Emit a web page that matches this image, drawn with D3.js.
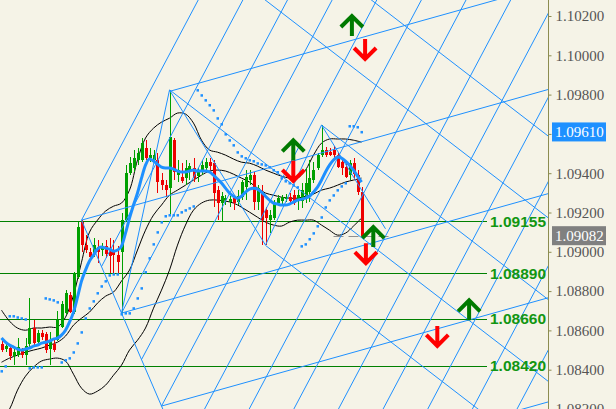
<!DOCTYPE html>
<html><head><meta charset="utf-8">
<script src="https://cdnjs.cloudflare.com/ajax/libs/d3/7.8.5/d3.min.js"></script>
<style>html,body{margin:0;padding:0;background:#F5F3E7;} svg{display:block}</style>
</head><body>
<svg id="chart" width="616" height="409"></svg>
<script>
// ---------- data ----------
const openP = [1.08530,1.08505,1.08510,1.08469,1.08474,1.08500,1.08474,1.08530,1.08612,1.08540,
1.08586,1.08581,1.08505,1.08530,1.08550,1.08617,1.08688,1.08779,1.08693,1.08871,
1.09151,1.09034,1.08998,1.08993,1.09024,1.09009,1.09029,1.08998,1.09009,1.08983,
1.08998,1.09161,1.09400,1.09426,1.09467,1.09467,1.09528,1.09477,1.09467,1.09467,
1.09365,1.09339,1.09324,1.09568,1.09390,1.09380,1.09375,1.09416,1.09426,1.09385,
1.09406,1.09426,1.09456,1.09451,1.09314,1.09248,1.09263,1.09253,1.09273,1.09253,
1.09278,1.09329,1.09365,1.09390,1.09253,1.09304,1.09212,1.09161,1.09171,1.09248,
1.09258,1.09268,1.09278,1.09288,1.09263,1.09258,1.09273,1.09304,1.09365,1.09426,
1.09492,1.09518,1.09507,1.09518,1.09492,1.09456,1.09431,1.09390,1.09451,1.09390,
1.09304];
const highP = [1.08545,1.08540,1.08525,1.08515,1.08561,1.08510,1.08561,1.08764,1.08652,1.08601,
1.08601,1.08591,1.08591,1.08550,1.08698,1.08749,1.08805,1.08795,1.08897,1.09151,
1.09161,1.09085,1.09019,1.09070,1.09059,1.09044,1.09059,1.09070,1.09059,1.09029,
1.09197,1.09441,1.09482,1.09518,1.09528,1.09579,1.09568,1.09528,1.09518,1.09502,
1.09400,1.09365,1.09823,1.09579,1.09467,1.09451,1.09467,1.09451,1.09477,1.09426,
1.09467,1.09477,1.09477,1.09467,1.09334,1.09304,1.09288,1.09283,1.09288,1.09314,
1.09365,1.09416,1.09416,1.09406,1.09339,1.09339,1.09227,1.09212,1.09263,1.09288,
1.09288,1.09294,1.09299,1.09314,1.09314,1.09350,1.09426,1.09467,1.09456,1.09502,
1.09645,1.09533,1.09528,1.09538,1.09502,1.09477,1.09451,1.09467,1.09477,1.09416,
1.09329];
const lowP = [1.08489,1.08489,1.08449,1.08423,1.08464,1.08459,1.08423,1.08515,1.08520,1.08535,
1.08550,1.08484,1.08423,1.08489,1.08545,1.08612,1.08678,1.08688,1.08683,1.08861,
1.08998,1.08993,1.08958,1.08973,1.08942,1.08978,1.08968,1.08891,1.08891,1.08891,
1.08688,1.09151,1.09390,1.09406,1.09441,1.09456,1.09467,1.09456,1.09451,1.09299,
1.09314,1.09278,1.09187,1.09365,1.09355,1.09350,1.09339,1.09365,1.09355,1.09355,
1.09390,1.09406,1.09416,1.09227,1.09161,1.09151,1.09238,1.09227,1.09212,1.09238,
1.09263,1.09263,1.09339,1.09212,1.09212,1.09034,1.09034,1.09095,1.09161,1.09238,
1.09243,1.09253,1.09243,1.09238,1.09212,1.09222,1.09248,1.09253,1.09350,1.09416,
1.09482,1.09482,1.09487,1.09477,1.09426,1.09390,1.09375,1.09365,1.09365,1.09288,
1.09075];
const closeP = [1.08500,1.08520,1.08469,1.08489,1.08515,1.08474,1.08520,1.08612,1.08535,1.08586,
1.08566,1.08500,1.08545,1.08500,1.08652,1.08734,1.08790,1.08693,1.08891,1.09126,
1.09034,1.09009,1.08973,1.09034,1.08998,1.09029,1.08988,1.08978,1.08983,1.08947,
1.09161,1.09400,1.09451,1.09477,1.09502,1.09553,1.09477,1.09492,1.09492,1.09355,
1.09339,1.09314,1.09584,1.09406,1.09416,1.09360,1.09426,1.09436,1.09375,1.09406,
1.09441,1.09456,1.09436,1.09299,1.09248,1.09283,1.09273,1.09268,1.09248,1.09283,
1.09355,1.09380,1.09390,1.09253,1.09324,1.09161,1.09171,1.09187,1.09248,1.09273,
1.09278,1.09278,1.09258,1.09248,1.09288,1.09314,1.09350,1.09375,1.09416,1.09492,
1.09518,1.09492,1.09492,1.09492,1.09431,1.09426,1.09380,1.09451,1.09395,1.09304,
1.09082];
const maLine = [1.08561,1.08540,1.08525,1.08515,1.08505,1.08500,1.08505,1.08510,1.08520,1.08525,
1.08535,1.08540,1.08545,1.08556,1.08561,1.08576,1.08601,1.08642,1.08693,1.08769,
1.08851,1.08907,1.08953,1.08983,1.09014,1.09024,1.09019,1.09014,1.09003,1.09009,
1.09029,1.09095,1.09171,1.09238,1.09299,1.09375,1.09441,1.09472,1.09462,1.09446,
1.09431,1.09426,1.09426,1.09421,1.09411,1.09406,1.09406,1.09411,1.09416,1.09411,
1.09411,1.09411,1.09406,1.09390,1.09370,1.09350,1.09324,1.09299,1.09283,1.09273,
1.09283,1.09304,1.09319,1.09324,1.09319,1.09304,1.09283,1.09263,1.09248,1.09243,
1.09238,1.09238,1.09243,1.09253,1.09263,1.09268,1.09273,1.09283,1.09304,1.09329,
1.09365,1.09406,1.09441,1.09467,1.09482,1.09477,1.09462,1.09441,1.09416,1.09385,
1.09355];
// Bollinger bands, read every second bar
const bandBars = d3.range(0, 91, 2);
const bandUpper = [1.08703,1.08647,1.08612,1.08601,1.08612,1.08612,1.08617,1.08617,1.08667,1.08779,
1.08947,1.09100,1.09161,1.09207,1.09232,1.09248,1.09314,1.09467,1.09579,1.09629,
1.09660,1.09680,1.09706,1.09701,1.09655,1.09568,1.09518,1.09507,1.09492,1.09472,
1.09456,1.09451,1.09436,1.09416,1.09400,1.09385,1.09375,1.09375,1.09416,1.09492,
1.09553,1.09574,1.09574,1.09574,1.09568,1.09558];
const bandMiddle = [1.08438,1.08459,1.08474,1.08489,1.08500,1.08510,1.08525,1.08540,1.08571,1.08627,
1.08662,1.08693,1.08739,1.08774,1.08795,1.08851,1.08907,1.09009,1.09110,1.09187,
1.09238,1.09288,1.09314,1.09339,1.09365,1.09390,1.09411,1.09416,1.09411,1.09395,
1.09375,1.09355,1.09324,1.09299,1.09288,1.09278,1.09273,1.09273,1.09283,1.09294,
1.09314,1.09324,1.09339,1.09355,1.09365,1.09375];
const bandLower = [1.08143,1.08199,1.08296,1.08367,1.08413,1.08444,1.08454,1.08459,1.08444,1.08377,
1.08306,1.08276,1.08291,1.08321,1.08372,1.08423,1.08500,1.08550,1.08612,1.08713,
1.08805,1.08907,1.09034,1.09136,1.09212,1.09248,1.09263,1.09263,1.09258,1.09248,
1.09227,1.09202,1.09176,1.09151,1.09136,1.09131,1.09151,1.09161,1.09161,1.09161,
1.09136,1.09110,1.09085,1.09095,1.09131,1.09171];
const sarDots = [1.08393,1.08418,1.08673,1.08673,1.08667,1.08662,1.08657,1.08408,1.08413,1.08413,
1.08413,1.08764,1.08759,1.08754,1.08744,1.08438,1.08449,1.08459,1.08489,1.08535,
1.08591,1.08662,1.08713,1.08749,1.08790,1.08825,1.08851,1.08881,1.08886,1.08886,
1.08683,1.08688,1.08688,1.08713,1.08764,1.08815,1.08897,1.08968,1.09039,1.09100,
1.09151,1.09182,1.09187,1.09187,1.09187,1.09202,1.09212,1.09222,1.09232,1.09823,
1.09797,1.09772,1.09747,1.09721,1.09680,1.09650,1.09599,1.09568,1.09543,1.09507,
1.09487,1.09477,1.09467,1.09462,1.09451,1.09446,1.09441,1.09431,1.09416,1.09406,
1.09375,1.09360,1.09350,1.09339,1.09329,1.09029,1.09039,1.09065,1.09095,1.09131,
1.09176,1.09227,1.09263,1.09288,1.09314,1.09334,1.09350,1.09640,1.09640,1.09635,
1.09610];
const tickPrices = [1.082,1.084,1.086,1.088,1.090,1.092,1.094,1.096,1.098,1.100,1.102];
const levelPrices = [1.09155, 1.08890, 1.08660, 1.08420];
const lastClose = 1.09082;
const lastSar = 1.09610;
const bidLineBars = [83, 97];   // short dashed bid marker near the last bar
// drawing-object anchors (bar index, price)
const anchorC = {bar: 20, price: 1.09161};
const anchorA = {bar: 30, price: 1.08688};
const anchorB = {bar: 42, price: 1.09823};
const anchorD = {bar: 80, price: 1.09645};
const anchorE = {bar: 66, price: 1.09034};
const steepSlope = 0.000384, shallowSlope = 0.0000570, fallSlope = -0.0001567; // price per bar
const steepStarts = [20,25,30,35,40,45,50,55,60,65,70,75,80];
const steepOffsets = [0,-1,-2,-3,-4,-5,-6,-7,-8,-9,-10,-11,-12];
const shallowStarts = [42,20,30,40,50];
const shallowOffsets = [1,0,-1,-2,-3];
const fallStarts = [40,40,80,42,66];
const fallOffsets = [2,1,0,-1,-2];
const extraSegments = [
  [30,1.08688,42,1.09823],
  [20,1.09161,41,1.08168],
  [42,1.09823,66,1.09034],
  [66,1.09034,80,1.09645],
  [80,1.09645,96,1.09117]
];
const upArrows = [{bar:87.6,price:1.10205},{bar:72.95,price:1.09572},{bar:92.95,price:1.09131},{bar:116.9,price:1.08758}];
const downArrows = [{bar:90.9,price:1.09976},{bar:72.95,price:1.09356},{bar:91.1,price:1.08937},{bar:108.95,price:1.08516}];

// ---------- scales ----------
const W = 616, H = 409, plotR = 548;
const x = d3.scaleLinear().domain([0, 136]).range([1.5, 545.5]);
const y = d3.scaleLinear().domain([1.082, 1.102]).range([409, 16]);
const svg = d3.select('#chart');
svg.append('rect').attr('width', W).attr('height', H).attr('fill', '#F5F3E7');
svg.append('defs').append('clipPath').attr('id', 'plot')
  .append('rect').attr('x', 0).attr('y', 0).attr('width', plotR).attr('height', H);
const g = svg.append('g').attr('clip-path', 'url(#plot)');

const BLUE = '#1E90FF';
g.selectAll('line.lvl').data(levelPrices).join('line')
  .attr('x1', 0).attr('x2', 487)
  .attr('y1', d => Math.round(y(d)) + 0.5).attr('y2', d => Math.round(y(d)) + 0.5)
  .attr('stroke', '#008000').attr('stroke-width', 1);

// dashed bid marker
g.append('line').attr('x1', x(bidLineBars[0])).attr('x2', x(bidLineBars[1]))
  .attr('y1', Math.round(y(lastClose)) + 0.5).attr('y2', Math.round(y(lastClose)) + 0.5)
  .attr('stroke', '#909090').attr('stroke-width', 1).attr('stroke-dasharray', '10,5');

const bandLine = arr => d3.line().x((d, i) => x(bandBars[i])).y(d => y(d)).curve(d3.curveCatmullRom)(arr);
[bandUpper, bandMiddle, bandLower].forEach(arr => {
  g.append('path').attr('d', bandLine(arr)).attr('fill', 'none').attr('stroke', '#000').attr('stroke-width', 1);
});

const idx = d3.range(openP.length);
const cg = g.append('g').attr('shape-rendering', 'crispEdges');
idx.forEach(i => {
  const up = closeP[i] >= openP[i];
  const col = up ? '#00A000' : '#EE0000';
  const cx = Math.round(x(i));
  cg.append('line').attr('x1', cx + 0.5).attr('x2', cx + 0.5)
    .attr('y1', y(highP[i])).attr('y2', y(lowP[i])).attr('stroke', col).attr('stroke-width', 1);
  const top = y(Math.max(openP[i], closeP[i])), bot = y(Math.min(openP[i], closeP[i]));
  cg.append('rect').attr('x', cx - 1).attr('y', top).attr('width', 3).attr('height', Math.max(1, bot - top)).attr('fill', col);
});

g.append('path').attr('d', d3.line().x((d, i) => x(i)).y(d => y(d)).curve(d3.curveMonotoneX)(maLine))
  .attr('fill', 'none').attr('stroke', BLUE).attr('stroke-width', 3);

g.selectAll('rect.sar').data(sarDots).join('rect')
  .attr('x', (d, i) => x(i) - 1).attr('y', d => y(d) - 1).attr('width', 2.5).attr('height', 2.5).attr('fill', BLUE);

const lg = g.append('g').attr('stroke', BLUE).attr('stroke-width', 1).attr('fill', 'none');
function ray(b0, p0, slope, b1) { return [[x(b0), y(p0)], [x(b1), y(p0 + slope * (b1 - b0))]]; }
const endBar = 200;
steepStarts.forEach((sb, k) => {
  const p0 = anchorC.price + steepSlope * (sb - anchorC.bar) + steepOffsets[k] * 0.004285;
  const pts = ray(sb, p0, steepSlope, endBar);
  lg.append('line').attr('x1', pts[0][0]).attr('y1', pts[0][1]).attr('x2', pts[1][0]).attr('y2', pts[1][1]);
});
shallowStarts.forEach((sb, k) => {
  const p0 = anchorC.price + shallowSlope * (sb - anchorC.bar) + shallowOffsets[k] * 0.0053;
  const pts = ray(sb, p0, shallowSlope, endBar);
  lg.append('line').attr('x1', pts[0][0]).attr('y1', pts[0][1]).attr('x2', pts[1][0]).attr('y2', pts[1][1]);
});
fallStarts.forEach((sb, k) => {
  const p0 = anchorD.price + fallSlope * (sb - anchorD.bar) + fallOffsets[k] * 0.00416;
  const pts = ray(sb, p0, fallSlope, endBar);
  lg.append('line').attr('x1', pts[0][0]).attr('y1', pts[0][1]).attr('x2', pts[1][0]).attr('y2', pts[1][1]);
});
extraSegments.forEach(s => {
  lg.append('line').attr('x1', x(s[0])).attr('y1', y(s[1])).attr('x2', x(s[2])).attr('y2', y(s[3]));
});

const ag = svg.append('g').attr('fill', 'none').attr('stroke-width', 4).attr('stroke-linejoin', 'miter');
upArrows.forEach(a => {
  const ax = x(a.bar), ay = y(a.price);
  ag.append('path').attr('stroke', '#007A00')
    .attr('d', `M${ax - 11},${ay + 12}L${ax},${ay + 1}L${ax + 11},${ay + 12}M${ax},${ay + 1}L${ax},${ay + 21}`);
});
downArrows.forEach(a => {
  const ax = x(a.bar), ay = y(a.price);
  ag.append('path').attr('stroke', '#FF0000')
    .attr('d', `M${ax - 11},${ay - 12}L${ax},${ay - 1}L${ax + 11},${ay - 12}M${ax},${ay - 1}L${ax},${ay - 21}`);
});

svg.selectAll('text.lvl').data(levelPrices).join('text')
  .attr('x', 490).attr('y', d => y(d)).attr('dy', '0.36em')
  .attr('font-family', 'Liberation Sans, Arial, sans-serif').attr('font-weight', 'bold').attr('font-size', 15.5)
  .attr('fill', '#129612').text(d => d.toFixed(5));

const hidden = new Set([lastSar.toFixed(3)]);
const axis = d3.axisRight(y).tickValues(tickPrices)
  .tickFormat(d => hidden.has(d.toFixed(3)) ? '' : d3.format('.5f')(d))
  .tickSize(3).tickSizeOuter(0).tickPadding(4);
const ax = svg.append('g').attr('transform', `translate(${plotR + 0.5},0)`).call(axis);
ax.select('.domain').attr('stroke', '#8C8C50');
ax.selectAll('.tick line').attr('stroke', '#8C8C50');
ax.selectAll('.tick text').attr('fill', '#555').attr('font-family', 'Liberation Serif, Times New Roman, serif').attr('font-size', 15);
ax.select('.domain').attr('d', `M0,0V${H}`);
ax.selectAll('.tick').filter(d => hidden.has(d.toFixed(3))).select('text').remove();

[[lastSar, BLUE], [lastClose, '#808080']].forEach(([v, c]) => {
  const yy = y(v);
  svg.append('rect').attr('x', 552).attr('y', yy - 9.5).attr('width', 54).attr('height', 19).attr('fill', c);
  svg.append('text').attr('x', 555).attr('y', yy).attr('dy', '0.34em').attr('fill', '#fff')
    .attr('font-family', 'Liberation Serif, Times New Roman, serif').attr('font-size', 15).text(v.toFixed(5));
});
</script>
</body></html>
